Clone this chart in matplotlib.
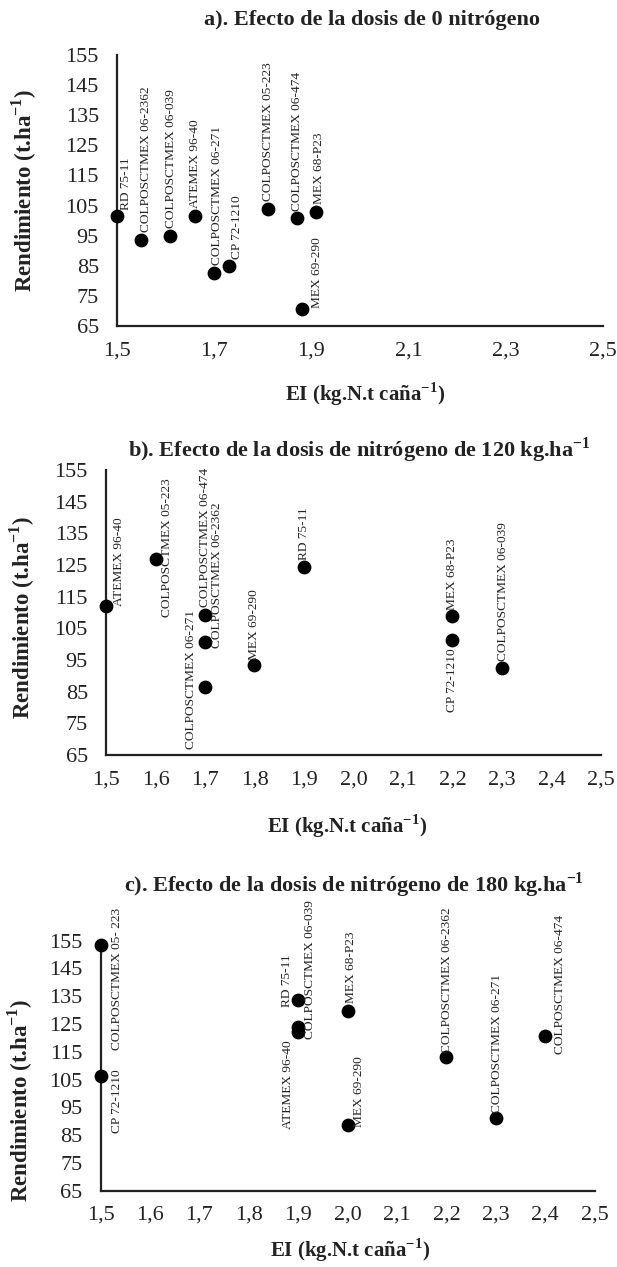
import numpy as np
import matplotlib
matplotlib.use("Agg")
import matplotlib.pyplot as plt
from matplotlib.ticker import FuncFormatter

plt.rcParams['font.family'] = ['Liberation Serif', 'DejaVu Serif']
plt.rcParams['mathtext.fontset'] = 'custom'
plt.rcParams['mathtext.rm'] = 'Liberation Serif'
plt.rcParams['mathtext.bf'] = 'Liberation Serif:bold'

## data (EI, rendimiento) per panel
names_a = ["RD 75-11", "COLPOSCTMEX 06-2362", "COLPOSCTMEX 06-039", "ATEMEX 96-40",
           "COLPOSCTMEX 06-271", "CP 72-1210", "COLPOSCTMEX 05-223",
           "COLPOSCTMEX 06-474", "MEX 68-P23", "MEX 69-290"]
ei_a = [1.50, 1.55, 1.61, 1.66, 1.70, 1.73, 1.81, 1.87, 1.91, 1.88]
rend_a = [101.5, 93.5, 95.0, 101.5, 82.5, 85.0, 104.0, 101.0, 103.0, 70.5]

names_b = ["ATEMEX 96-40", "COLPOSCTMEX 05-223", "COLPOSCTMEX 06-474",
           "COLPOSCTMEX 06-2362", "COLPOSCTMEX 06-271", "MEX 69-290", "RD 75-11",
           "MEX 68-P23", "CP 72-1210", "COLPOSCTMEX 06-039"]
ei_b = [1.5, 1.6, 1.7, 1.7, 1.7, 1.8, 1.9, 2.2, 2.2, 2.3]
rend_b = [112.2, 127.0, 109.3, 100.6, 86.6, 93.3, 124.5, 109.0, 101.2, 92.4]

names_c = ["COLPOSCTMEX 05- 223", "CP 72-1210", "RD 75-11", "ATEMEX 96-40",
           "COLPOSCTMEX 06-039", "MEX 68-P23", "MEX 69-290",
           "COLPOSCTMEX 06-2362", "COLPOSCTMEX 06-271", "COLPOSCTMEX 06-474"]
ei_c = [1.5, 1.5, 1.9, 1.9, 1.9, 2.0, 2.0, 2.2, 2.3, 2.4]
rend_c = [153.5, 106.4, 133.7, 122.0, 124.0, 129.7, 88.5, 113.0, 91.2, 120.7]

titles = ["a). Efecto de la dosis de 0 nitrógeno",
          r"b). Efecto de la dosis de nitrógeno de 120 kg.ha$^{\mathbf{-1}}$",
          r"c). Efecto de la dosis de nitrógeno de 180 kg.ha$^{\mathbf{-1}}$"]
xlab = r"EI (kg.N.t caña$^{\mathbf{-1}}$)"
ylab = r"Rendimiento (t.ha$^{\mathbf{-1}}$)"

## label placement (dx, dy in px, vertical alignment)
place_a = [(9, 6, 'bottom'), (5, 8, 'bottom'), (1, 8, 'bottom'), (0, 8, 'bottom'),
           (3, 8, 'bottom'), (8, 7, 'bottom'), (0, 8, 'bottom'), (0, 7, 'bottom'),
           (3, 8, 'bottom'), (15, 1, 'bottom')]
place_b = [(13, 0, 'bottom'), (12, 11, 'center'), (0, 8, 'bottom'), (12, -6, 'bottom'),
           (-14, 7, 'center'), (0, 5, 'bottom'), (0, 7, 'bottom'), (0, 6, 'bottom'),
           (0, -8, 'top'), (1, 7, 'bottom')]
place_c = [(16, -34, 'center'), (16, 6, 'top'), (-11, -7, 'bottom'), (-10, -8, 'top'),
           (12, -12, 'bottom'), (3, 8, 'bottom'), (11, -2, 'bottom'), (1, 4, 'bottom'),
           (1, 5, 'bottom'), (15, -18, 'bottom')]

W, H = 617, 1267
fig = plt.figure(figsize=(W / 100, H / 100), dpi=100)

def px(x0, y0, x1, y1):
    return [x0 / W, 1 - y1 / H, (x1 - x0) / W, (y1 - y0) / H]

panels = [
    (names_a, ei_a, rend_a, place_a, px(117, 55, 603, 326), 0.2, (372, 20), (365, 394), (24, 190)),
    (names_b, ei_b, rend_b, place_b, px(106, 470, 601, 755), 0.1, (359, 450), (347, 826), (22, 617)),
    (names_c, ei_c, rend_c, place_c, px(100.7, 940.7, 594.6, 1190.7), 0.1, (354, 885), (350, 1250), (20, 1100)),
]

comma = FuncFormatter(lambda v, p: "{0:.1f}".format(v).replace(".", ","))

for i, (names, ei, rend, place, rect, step, tpos, xpos, ypos) in enumerate(panels):
    ax = fig.add_axes(rect)
    ax.scatter(ei, rend, s=80, color='black', zorder=3, clip_on=False)
    for n, x, y, (dx, dy, va) in zip(names, ei, rend, place):
        ax.annotate(n, (x, y), xytext=(dx * 0.72, dy * 0.72), textcoords='offset points',
                    rotation=90, ha='center', va=va, fontsize=9.6, color='#222222')
    ax.set_xlim(1.5, 2.5)
    ax.set_ylim(65, 155)
    ax.set_xticks(np.arange(1.5, 2.5001, step))
    ax.set_yticks(np.arange(65, 156, 10))
    ax.xaxis.set_major_formatter(comma)
    for s in ['top', 'right']:
        ax.spines[s].set_visible(False)
    for s in ['left', 'bottom']:
        ax.spines[s].set_linewidth(1.6)
        ax.spines[s].set_color('#222222')
    ax.tick_params(axis='both', length=0, labelsize=16, colors='#222222')
    ax.tick_params(axis='y', pad=13)
    ax.tick_params(axis='x', pad=11)
    ax.patch.set_alpha(0)
    fig.text(tpos[0] / W, 1 - tpos[1] / H, titles[i], ha='center', va='center',
             fontsize=16, fontweight='bold', color='#222222')
    fig.text(xpos[0] / W, 1 - xpos[1] / H, xlab, ha='center', va='center',
             fontsize=15, fontweight='bold', color='#222222')
    fig.text(ypos[0] / W, 1 - ypos[1] / H, ylab, ha='center', va='center', rotation=90,
             fontsize=16.5, fontweight='bold', color='#222222')

fig.savefig("out.png", dpi=100)
